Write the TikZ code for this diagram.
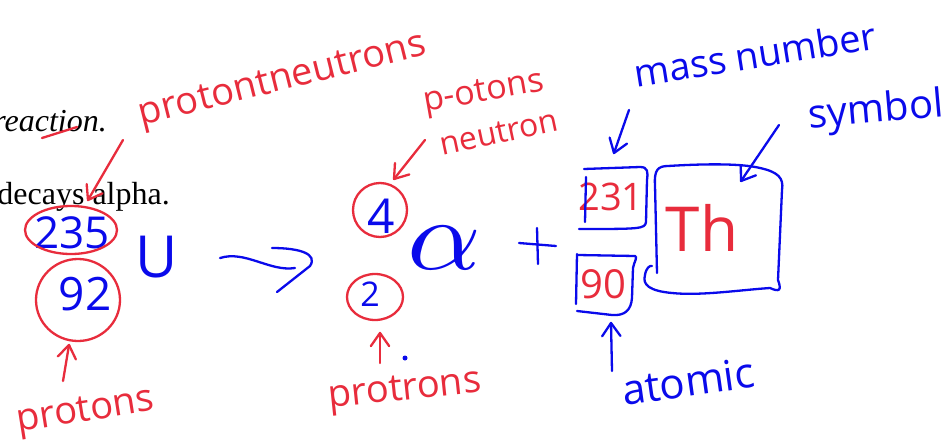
\documentclass[tikz,border=0pt]{standalone}
\usepackage{fontspec}
\setmainfont{Liberation Serif}
\newfontfamily\hand{Open Sans}
\usetikzlibrary{calc}
\definecolor{inkred}{RGB}{232,44,60}
\definecolor{inkblue}{RGB}{10,10,235}
% #1 style, #2 start coordinate, #3 tip coordinate
\newcommand\inkarrow[3]{%
  \draw[#1] (#2) -- (#3);
  \draw[#1] ($(#3)!16pt!35:(#2)$) -- (#3) -- ($(#3)!16pt!-35:(#2)$);}
\begin{document}
\begin{tikzpicture}[x=1pt,y=-1pt,
  stroke/.style={line width=2.3pt,line cap=round,line join=round},
  redstroke/.style={stroke,draw=inkred},
  bluestroke/.style={stroke,draw=inkblue},
  hsize/.style={font=\hand\fontsize{#1}{#1}\selectfont,inner sep=0pt},
  redtext/.style={hsize=#1,text=inkred},
  bluetext/.style={hsize=#1,text=inkblue},
  printed/.style={inner sep=0pt,font=\fontsize{32}{36}\selectfont}]
\useasboundingbox (0,0) rectangle (948,442);
\fill[white] (0,0) rectangle (948,442);

% printed slide text
\node[printed,anchor=base east,font=\fontsize{32}{36}\selectfont\itshape] (reac) at (107,131) {reaction.};
\node[printed,anchor=base east] (decay) at (170,204) {decays alpha.};
\coordinate (st1) at (42,138);
\coordinate (st2) at (77,127);
\draw[redstroke] (st1) -- (st2);

% U-235
\node[bluetext=44] (n235) at (72,233) {235};
\draw[redstroke] (71,230) ellipse [x radius=46, y radius=24];
\node[bluetext=46] (n92) at (85,294) {92};
\draw[redstroke] (78,300) ellipse [x radius=42, y radius=41];
\node[bluetext=58] (U) at (157,257) {U};

% reaction arrow
\coordinate (ra1) at (220,258);
\coordinate (ra2) at (295,268);
\draw[bluestroke] (ra1) .. controls (245,250) and (270,272) .. (ra2);
\draw[bluestroke] (272,248) .. controls (300,248) and (318,254) .. (310,266) -- (277,292);

% alpha
\node[bluetext=48] (n4) at (381,216) {4};
\draw[redstroke] (380,210) ellipse [x radius=27, y radius=27];
\node[bluetext=34] (n2) at (370,294) {2};
\draw[redstroke] (375,297) ellipse [x radius=28, y radius=23];
\node[inner sep=0pt,text=inkblue,xscale=11.5,yscale=10] (alpha) at (444,248) {$\alpha$};

% plus
\coordinate (p1) at (537,228); \coordinate (p2) at (538,264);
\coordinate (p3) at (519,243); \coordinate (p4) at (556,246);
\draw[bluestroke] (p1) -- (p2);
\draw[bluestroke] (p3) -- (p4);

% thorium boxes
\node[redtext=38] (n231) at (611,197) {231};
\draw[bluestroke] (586,177) -- (585,222);
\draw[bluestroke] (584,169) -- (640,167) .. controls (648,167) and (648,172) .. (647,180) -- (646,222) .. controls (645,229) and (640,229) .. (579,229);
\node[redtext=62] (nTh) at (702,228) {Th};
\draw[bluestroke] (657,273) -- (655,185) .. controls (654,170) and (658,166) .. (668,166) .. controls (700,164) and (740,163) .. (760,168) .. controls (778,172) and (784,178) .. (782,190) -- (778,280) .. controls (782,291) and (779,292) .. (770,288) .. controls (740,290) and (700,296) .. (672,293) .. controls (650,291) and (642,285) .. (645,275) .. controls (646,268) and (650,265) .. (652,266);
\node[redtext=40] (n90) at (603,284) {90};
\draw[bluestroke] (577,254) -- (576,304);
\draw[bluestroke] (578,255) -- (635,256) .. controls (638,257) and (634,262) .. (633,268) -- (632,298) .. controls (631,310) and (625,316) .. (612,315) -- (577,311);

% labels
\node[redtext=38,rotate=14] (pn) at (283,82) {protontneutrons};
\node[redtext=34,rotate=10] (pot) at (484,94) {p-otons};
\node[redtext=32,rotate=12] (neu) at (499,133) {neutron};
\node[bluetext=38,rotate=9] (mass) at (755,54) {mass number};
\node[bluetext=40,rotate=5] (sym) at (876,112) {symbol};
\node[bluetext=42,rotate=8] (atomic) at (688,381) {atomic};
\node[redtext=38,rotate=6] (protrons) at (405,392) {protrons};
\node[redtext=38,rotate=9] (protons) at (86,413) {protons};

% annotation arrows
\coordinate (a1s) at (123,140); \coordinate (a1e) at (88,200);
\inkarrow{redstroke}{a1s}{a1e}
\coordinate (a2s) at (425,140); \coordinate (a2e) at (394,179);
\inkarrow{redstroke}{a2s}{a2e}
\coordinate (a3s) at (63,381); \coordinate (a3e) at (69,345);
\inkarrow{redstroke}{a3s}{a3e}
\coordinate (a4s) at (380,363); \coordinate (a4e) at (380,333);
\inkarrow{redstroke}{a4s}{a4e}
\coordinate (a5s) at (629,110); \coordinate (a5e) at (614,153);
\inkarrow{bluestroke}{a5s}{a5e}
\coordinate (a6s) at (779,125); \coordinate (a6e) at (741,181);
\inkarrow{bluestroke}{a6s}{a6e}
\coordinate (a7s) at (612,371); \coordinate (a7e) at (611,323);
\inkarrow{bluestroke}{a7s}{a7e}
\fill[inkblue] (405,358) circle (2.5);
\end{tikzpicture}
\end{document}
